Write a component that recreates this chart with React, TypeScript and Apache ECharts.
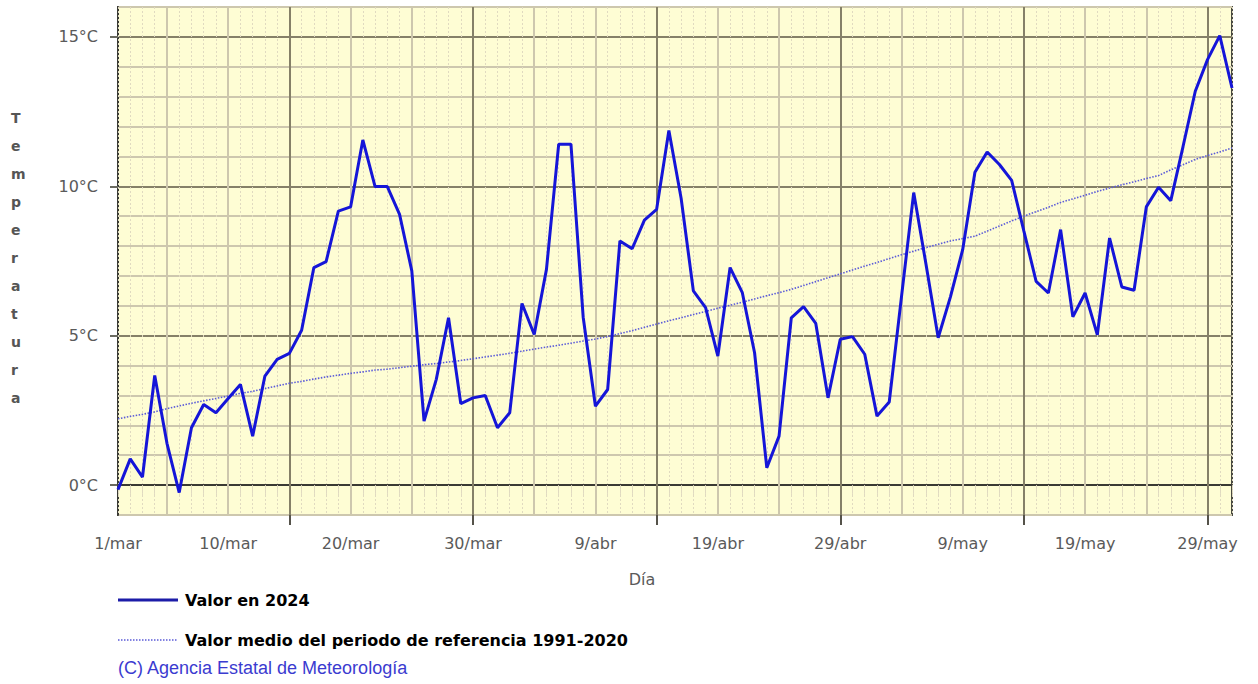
import React, { useEffect, useRef } from "react";
import * as echarts from "echarts";

// Month names and lengths used to build the day categories (1/mar .. 31/may)
const months: [string, number][] = [
  ["mar", 31],
  ["abr", 30],
  ["may", 31],
];
const days: string[] = [];
months.forEach(([m, n]) => {
  for (let d = 1; d <= n; d++) days.push(`${d}/${m}`);
});

// Daily values 2024 (°C)
const valor2024: number[] = [
  -0.15, 0.88, 0.27, 3.67, 1.4, -0.25, 1.92, 2.7, 2.42, 2.9,
  3.37, 1.64, 3.65, 4.21, 4.41, 5.18, 7.28, 7.48, 9.17, 9.31,
  11.55, 9.99, 9.99, 9.06, 7.17, 2.14, 3.54, 5.6, 2.73, 2.92,
  3.0, 1.92, 2.42, 6.08, 5.04, 7.22, 11.41, 11.41, 5.62, 2.64,
  3.2, 8.17, 7.91, 8.87, 9.23, 11.87, 9.6, 6.5, 5.94, 4.32,
  7.28, 6.44, 4.43, 0.58, 1.64, 5.6, 5.97, 5.41, 2.92, 4.88,
  4.97, 4.38, 2.31, 2.78, 6.3, 9.79, 7.4, 4.93, 6.3, 7.88,
  10.47, 11.15, 10.73, 10.2, 8.5, 6.82, 6.43, 8.55, 5.63, 6.43,
  5.03, 8.27, 6.63, 6.52, 9.31, 9.97, 9.52, 11.33, 13.18, 14.24,
  15.04, 13.29,
];

// Mean value of reference period 1991-2020 (°C)
const valorMedio: number[] = [
  2.22, 2.3, 2.37, 2.45, 2.56, 2.65, 2.74, 2.82, 2.9, 2.98,
  3.07, 3.14, 3.23, 3.32, 3.41, 3.47, 3.55, 3.62, 3.68, 3.74,
  3.79, 3.85, 3.88, 3.93, 3.98, 4.03, 4.07, 4.12, 4.17, 4.23,
  4.29, 4.35, 4.41, 4.48, 4.55, 4.62, 4.68, 4.75, 4.82, 4.89,
  4.97, 5.07, 5.17, 5.28, 5.39, 5.5, 5.6, 5.71, 5.81, 5.92,
  6.02, 6.12, 6.23, 6.34, 6.44, 6.55, 6.68, 6.81, 6.94, 7.07,
  7.2, 7.33, 7.45, 7.58, 7.71, 7.83, 7.95, 8.06, 8.17, 8.25,
  8.33, 8.5, 8.67, 8.84, 9.0, 9.15, 9.3, 9.46, 9.58, 9.7,
  9.83, 9.94, 10.05, 10.15, 10.26, 10.36, 10.55, 10.72, 10.9, 11.03,
  11.15, 11.28,
];

const yTickValues: number[] = [0, 5, 10, 15];
const seriesNames: string[] = [
  "Valor en 2024",
  "Valor medio del periodo de referencia 1991-2020",
];

const DARK = "#858068";
const LIGHT = "#cdc7ae";
const DOT = "#e0dac0";
const FONT = "DejaVu Sans";

export default function App() {
  const ref = useRef<HTMLDivElement>(null);
  useEffect(() => {
    if (!ref.current) return;
    const chart = echarts.init(ref.current, undefined, { renderer: "svg" });
    const baseX = {
      type: "category" as const,
      data: days,
      boundaryGap: false,
      position: "bottom" as const,
      gridIndex: 0,
    };
    chart.setOption({
      animation: false,
      backgroundColor: "#ffffff",
      grid: {
        left: 118,
        top: 7,
        right: 26,
        bottom: 169,
        show: true,
        backgroundColor: "#fefdd4",
        borderColor: "#4a4a42",
        borderWidth: 2,
        z: 0,
      },
      xAxis: [
        {
          ...baseX,
          axisLine: { show: true, lineStyle: { color: "#3a3a34", width: 2 } },
          axisTick: {
            show: true,
            interval: 0,
            length: 10,
            lineStyle: { color: DOT, type: [2, 2], width: 1 },
          },
          axisLabel: {
            show: true,
            interval: (i: number) => i === 0 || (i + 1) % 10 === 0,
            color: "#5a5a5a",
            fontFamily: FONT,
            fontSize: 16,
            margin: 20,
          },
          splitLine: {
            show: true,
            interval: 0,
            lineStyle: { color: DOT, type: [2, 2], width: 1 },
          },
          z: 1,
        },
        {
          ...baseX,
          axisLine: { show: false },
          axisLabel: { show: false },
          axisTick: {
            show: true,
            interval: (i: number) => (i + 1) % 5 === 0,
            length: 10,
            lineStyle: { color: LIGHT, width: 2 },
          },
          splitLine: {
            show: true,
            interval: (i: number) => (i + 1) % 5 === 0,
            lineStyle: { color: LIGHT, width: 2 },
          },
          z: 2,
        },
        {
          ...baseX,
          axisLine: { show: false },
          axisLabel: { show: false },
          axisTick: {
            show: true,
            interval: (i: number) => (i + 1) % 15 === 0,
            length: 10,
            lineStyle: { color: "#55524a", width: 2 },
          },
          splitLine: {
            show: true,
            interval: (i: number) => (i + 1) % 15 === 0,
            lineStyle: { color: DARK, width: 2 },
          },
          z: 3,
        },
      ],
      yAxis: [
        {
          type: "value",
          min: -1,
          max: 16,
          interval: 1,
          axisLine: { show: true, lineStyle: { color: "#3a3a34", width: 2 } },
          axisTick: { show: false },
          axisLabel: { show: false },
          splitLine: {
            show: true,
            lineStyle: { color: [LIGHT, DARK, LIGHT, LIGHT, LIGHT], width: 2 },
          },
        },
        {
          type: "value",
          min: -1,
          max: 16,
          interval: 1,
          position: "left",
          axisLine: { show: false },
          splitLine: { show: false },
          axisTick: {
            show: true,
            customValues: yTickValues,
            length: 8,
            lineStyle: { color: "#6a6a60", width: 2 },
          },
          axisLabel: {
            show: true,
            customValues: yTickValues,
            formatter: (v: number) => `${v}°C`,
            color: "#5a5a5a",
            fontFamily: FONT,
            fontSize: 16,
            margin: 20,
          },
        },
      ],
      series: [
        {
          name: seriesNames[1],
          type: "line",
          data: valorMedio,
          xAxisIndex: 0,
          yAxisIndex: 0,
          showSymbol: false,
          symbol: "none",
          lineStyle: { color: "#5a5ad8", width: 1.6, type: [1.5, 1.5] },
          z: 5,
        },
        {
          name: seriesNames[0],
          type: "line",
          data: valor2024,
          xAxisIndex: 0,
          yAxisIndex: 0,
          showSymbol: false,
          symbol: "none",
          lineStyle: { color: "#1515d8", width: 3 },
          z: 6,
        },
      ],
      graphic: [
        {
          type: "text",
          left: 11,
          top: 104,
          style: {
            text: "Temperatura".split("").join("\n"),
            fill: "#555555",
            font: `bold 14px "${FONT}"`,
            lineHeight: 28,
            align: "center",
            width: 14,
          },
        },
        {
          type: "text",
          x: 642,
          y: 579,
          style: {
            text: "Día",
            fill: "#5a5a5a",
            font: `16px "${FONT}"`,
            align: "center",
            verticalAlign: "middle",
          },
        },
        {
          type: "line",
          shape: { x1: 118, y1: 600, x2: 178, y2: 600 },
          style: { stroke: "#1c1ca8", lineWidth: 3 },
        },
        {
          type: "text",
          x: 185,
          y: 600,
          style: {
            text: seriesNames[0],
            fill: "#000000",
            font: `bold 16px "${FONT}"`,
            verticalAlign: "middle",
          },
        },
        {
          type: "line",
          shape: { x1: 118, y1: 640, x2: 178, y2: 640 },
          style: { stroke: "#5a5ad8", lineWidth: 1.5, lineDash: [1.5, 1.5] },
        },
        {
          type: "text",
          x: 185,
          y: 640,
          style: {
            text: seriesNames[1],
            fill: "#000000",
            font: `bold 16px "${FONT}"`,
            verticalAlign: "middle",
          },
        },
        {
          type: "text",
          x: 118,
          y: 668,
          style: {
            text: "(C) Agencia Estatal de Meteorología",
            fill: "#3b3bd0",
            font: `18px "Liberation Sans"`,
            verticalAlign: "middle",
          },
        },
      ],
    });
    return () => chart.dispose();
  }, []);
  return (
    <div
      ref={ref}
      style={{ position: "fixed", left: 0, top: 0, width: 1258, height: 684 }}
    />
  );
}
